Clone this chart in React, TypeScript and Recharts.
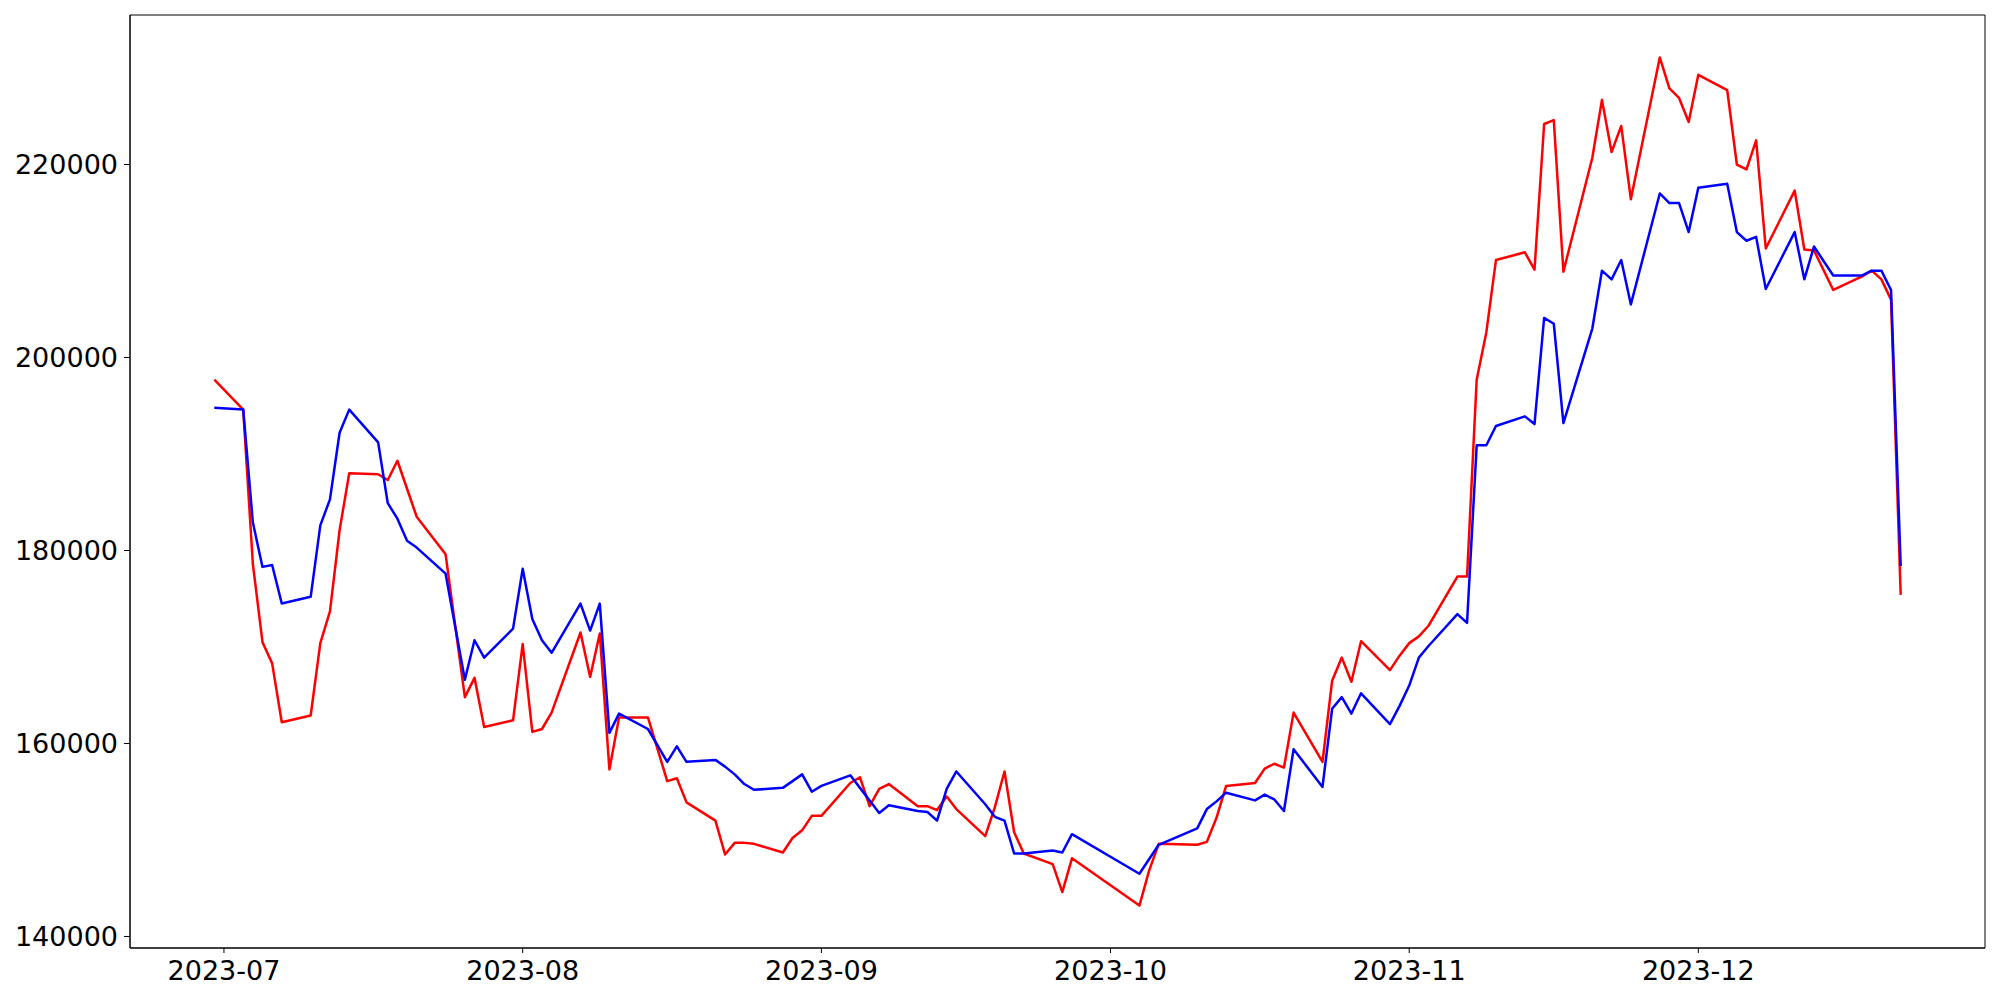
import React from 'react';
import { LineChart, Line, XAxis, YAxis, CartesianGrid } from 'recharts';

// trading days
const dates = [
  '2023-06-30',
  '2023-07-03', '2023-07-04', '2023-07-05', '2023-07-06', '2023-07-07',
  '2023-07-10', '2023-07-11', '2023-07-12', '2023-07-13', '2023-07-14',
  '2023-07-17', '2023-07-18', '2023-07-19', '2023-07-20', '2023-07-21',
  '2023-07-24', '2023-07-26', '2023-07-27', '2023-07-28',
  '2023-07-31', '2023-08-01', '2023-08-02', '2023-08-03', '2023-08-04',
  '2023-08-07', '2023-08-08', '2023-08-09', '2023-08-10', '2023-08-11',
  '2023-08-14', '2023-08-16', '2023-08-17', '2023-08-18',
  '2023-08-21', '2023-08-22', '2023-08-23', '2023-08-24', '2023-08-25',
  '2023-08-28', '2023-08-29', '2023-08-30', '2023-08-31', '2023-09-01',
  '2023-09-04', '2023-09-05', '2023-09-06', '2023-09-07', '2023-09-08',
  '2023-09-11', '2023-09-12', '2023-09-13', '2023-09-14', '2023-09-15',
  '2023-09-18', '2023-09-19', '2023-09-20', '2023-09-21', '2023-09-22',
  '2023-09-25', '2023-09-26', '2023-09-27',
  '2023-10-04', '2023-10-05', '2023-10-06',
  '2023-10-10', '2023-10-11', '2023-10-12', '2023-10-13',
  '2023-10-16', '2023-10-17', '2023-10-18', '2023-10-19', '2023-10-20',
  '2023-10-23', '2023-10-24', '2023-10-25', '2023-10-26', '2023-10-27',
  '2023-10-30', '2023-10-31', '2023-11-01', '2023-11-02', '2023-11-03',
  '2023-11-06', '2023-11-07', '2023-11-08', '2023-11-09', '2023-11-10',
  '2023-11-13', '2023-11-14', '2023-11-15', '2023-11-16', '2023-11-17',
  '2023-11-20', '2023-11-21', '2023-11-22', '2023-11-23', '2023-11-24',
  '2023-11-27', '2023-11-28', '2023-11-29', '2023-11-30', '2023-12-01',
  '2023-12-04', '2023-12-05', '2023-12-06', '2023-12-07', '2023-12-08',
  '2023-12-11', '2023-12-12', '2023-12-13', '2023-12-15',
  '2023-12-18', '2023-12-19', '2023-12-20', '2023-12-21', '2023-12-22',
];

const redValues = [
  197700,
  194600, 178600, 170500, 168300, 162200,
  162900, 170400, 173700, 182100, 188000,
  187900, 187300, 189300, 186400, 183500,
  179600, 164800, 166800, 161700,
  162400, 170300, 161200, 161500, 163200,
  171500, 166900, 171400, 157300, 162700,
  162700, 156100, 156400, 153900,
  152000, 148500, 149700, 149700, 149600,
  148700, 150200, 151000, 152500, 152500,
  155900, 156500, 153500, 155300, 155800,
  153500, 153500, 153100, 154500, 153200,
  150400, 153400, 157100, 150800, 148600,
  147500, 144600, 148100,
  143200, 146800, 149600,
  149500, 149800, 152300, 155600,
  155900, 157400, 157900, 157500, 163200,
  158100, 166500, 168900, 166400, 170600,
  167600, 169100, 170400, 171100, 172200,
  177300, 177300, 197700, 202600, 210100,
  210900, 209100, 224200, 224600, 208900,
  220700, 226700, 221300, 224000, 216400,
  231100, 227900, 226900, 224400, 229300,
  227700, 220000, 219500, 222500, 211300,
  217300, 211200, 211100, 207000,
  208400, 209000, 208100, 206000, 175400,
];

const blueValues = [
  194800,
  194600, 182900, 178300, 178500, 174500,
  175200, 182600, 185300, 192200, 194600,
  191200, 184900, 183300, 181000, 180300,
  177600, 166600, 170700, 168900,
  171900, 178100, 172900, 170700, 169400,
  174500, 171700, 174500, 161100, 163100,
  161500, 158100, 159700, 158100,
  158300, 157600, 156800, 155800, 155200,
  155400, 156100, 156800, 155000, 155600,
  156700, 155400, 154100, 152800, 153600,
  153000, 152900, 152000, 155300, 157100,
  153700, 152400, 152000, 148600, 148600,
  148900, 148700, 150600,
  146500, 148000, 149500,
  151200, 153200, 154000, 154900,
  154100, 154700, 154200, 153000, 159400,
  155500, 163600, 164800, 163100, 165200,
  162000, 163900, 166000, 168900, 170100,
  173400, 172500, 190900, 190900, 192900,
  193900, 193100, 204100, 203500, 193200,
  203000, 209000, 208100, 210100, 205500,
  217000, 216000, 216000, 213000, 217600,
  218000, 213000, 212100, 212500, 207100,
  213000, 208100, 211500, 208500,
  208500, 209000, 209000, 207000, 178400,
];

const monthTicks = ['2023-07-01', '2023-08-01', '2023-09-01', '2023-10-01', '2023-11-01', '2023-12-01'];
const valueTicks = [140000, 160000, 180000, 200000, 220000];

const toTime = (s: string) => Date.parse(s + 'T00:00:00Z');

const data = dates.map((d, i) => ({ t: toTime(d), red: redValues[i], blue: blueValues[i] }));

// matplotlib style 5% margins
const t0 = data[0].t;
const t1 = data[data.length - 1].t;
const tPad = (t1 - t0) * 0.05;
const allValues = [...redValues, ...blueValues];
const vMin = Math.min(...allValues);
const vMax = Math.max(...allValues);
const vPad = (vMax - vMin) * 0.05;

const formatMonth = (t: number) => {
  const d = new Date(t);
  return `${d.getUTCFullYear()}-${String(d.getUTCMonth() + 1).padStart(2, '0')}`;
};

const tickStyle = { fill: '#000', fontSize: 27, fontFamily: 'DejaVu Sans' };

const App = () => {
  return (
    <div style={{ position: 'absolute', left: 0, top: 0, width: 2000, height: 1000, background: '#fff' }}>
      <LineChart width={2000} height={1000} data={data} margin={{ top: 15, right: 15, left: 0, bottom: 0 }}>
        <CartesianGrid horizontalPoints={[15, 948]} verticalPoints={[130, 1985]} stroke="#000" strokeWidth={1} />
        <XAxis
          dataKey="t"
          type="number"
          scale="linear"
          domain={[t0 - tPad, t1 + tPad]}
          ticks={monthTicks.map(toTime)}
          tickFormatter={formatMonth}
          tick={tickStyle}
          tickSize={5}
          tickMargin={8}
          height={52}
          stroke="#000"
          allowDataOverflow
        />
        <YAxis
          type="number"
          domain={[vMin - vPad, vMax + vPad]}
          ticks={valueTicks}
          tick={tickStyle}
          tickSize={6}
          tickMargin={6}
          width={130}
          stroke="#000"
          allowDataOverflow
        />
        <Line dataKey="red" stroke="#ff0000" strokeWidth={2.5} strokeLinejoin="round" dot={false} isAnimationActive={false} />
        <Line dataKey="blue" stroke="#0000ff" strokeWidth={2.5} strokeLinejoin="round" dot={false} isAnimationActive={false} />
      </LineChart>
    </div>
  );
};

export default App;
